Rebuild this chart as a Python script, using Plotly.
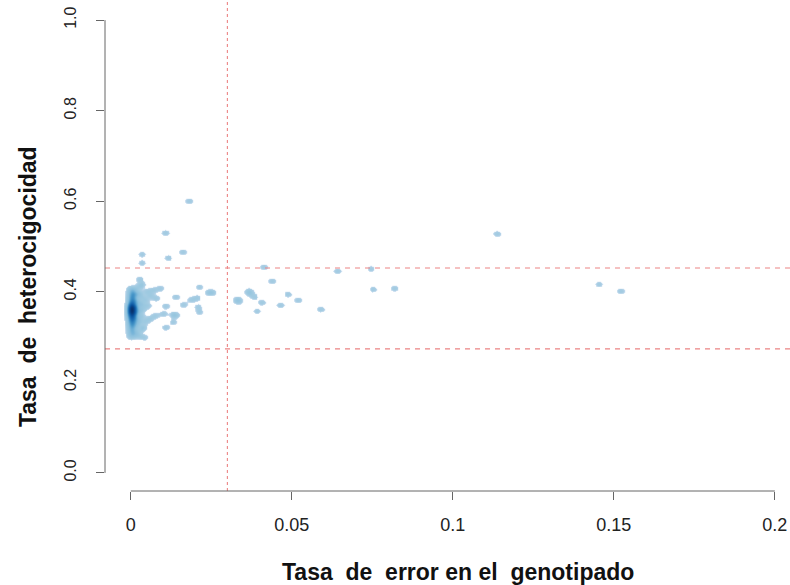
import numpy as np
import plotly.graph_objects as go

# Genotyping error rate (x) and heterozygosity rate (y) per sample
err_rate = [
    # samples with no genotyping errors
    0.0, 0.0, 0.0, 0.0, 0.0, 0.0, 0.0, 0.0, 0.0, 0.0,
    0.0, 0.0, 0.0, 0.0, 0.0, 0.0, 0.0, 0.0, 0.0, 0.0,
    0.0, 0.0, 0.0, 0.0, 0.0, 0.0, 0.0, 0.0, 0.0, 0.0,
    0.0, 0.0, 0.0, 0.0, 0.0, 0.0, 0.0, 0.0,
    0.0004, 0.0004, 0.0004, 0.0004, 0.0004, 0.0004, 0.0004, 0.0004,
    0.0004, 0.0004, 0.0004, 0.0004, 0.0004, 0.0004, 0.0004,
    0.0009, 0.0009, 0.0009, 0.0009, 0.0009, 0.0009, 0.0009, 0.0009,
    0.0009, 0.0009, 0.0009, 0.0009,
    0.0016, 0.0016, 0.0016, 0.0016, 0.0016, 0.0016, 0.0016,
    0.0024, 0.0024, 0.0024, 0.0024, 0.0024, 0.0024,
    0.0033, 0.0033, 0.0033, 0.0033,
    0.0045, 0.0050, 0.0045, 0.0038, 0.0060, 0.0052,
    # low error rates
    0.0026, 0.0034, 0.0090, 0.0212, 0.0242, 0.0252, 0.0069, 0.0140,
    0.0187, 0.0204, 0.0078, 0.0107, 0.0163, 0.0208, 0.0212, 0.0100,
    0.0131, 0.0140, 0.0075, 0.0059, 0.0131, 0.0107, 0.0042, 0.0038,
    0.0180, 0.0106, 0.0161, 0.0034, 0.0115, 0.0034,
    # high error rates
    0.1137, 0.0413, 0.0640, 0.0745, 0.1453, 0.1520, 0.0752, 0.0817,
    0.0438, 0.0365, 0.0368, 0.0331, 0.0333, 0.0382, 0.0488, 0.0407,
    0.0463, 0.0519, 0.0391, 0.0590,
]

het_rate = [
    0.301, 0.307, 0.312, 0.318, 0.322, 0.326, 0.330, 0.333, 0.336, 0.339,
    0.341, 0.344, 0.346, 0.348, 0.350, 0.352, 0.353, 0.355, 0.356, 0.358,
    0.359, 0.361, 0.362, 0.364, 0.365, 0.367, 0.368, 0.370, 0.372, 0.374,
    0.377, 0.380, 0.384, 0.388, 0.392, 0.397, 0.403, 0.408,
    0.315, 0.328, 0.338, 0.345, 0.351, 0.355, 0.358, 0.361,
    0.364, 0.367, 0.371, 0.376, 0.383, 0.391, 0.399,
    0.306, 0.322, 0.334, 0.343, 0.350, 0.357, 0.363, 0.369,
    0.378, 0.387, 0.396, 0.405,
    0.311, 0.329, 0.342, 0.354, 0.366, 0.381, 0.394,
    0.303, 0.336, 0.359, 0.375, 0.398, 0.412,
    0.318, 0.347, 0.372, 0.389,
    0.382, 0.401, 0.335, 0.362, 0.392, 0.370,
    0.428, 0.417, 0.408, 0.411, 0.399, 0.399, 0.404, 0.389,
    0.383, 0.387, 0.386, 0.369, 0.372, 0.367, 0.356, 0.352,
    0.350, 0.349, 0.348, 0.341, 0.334, 0.322, 0.300, 0.323,
    0.600, 0.530, 0.488, 0.483, 0.475, 0.464,
    0.528, 0.455, 0.446, 0.451, 0.417, 0.402, 0.406, 0.408,
    0.424, 0.402, 0.397, 0.384, 0.379, 0.389, 0.395, 0.377,
    0.371, 0.382, 0.358, 0.362,
]

# QC thresholds
het_upper = 0.4525
het_lower = 0.2737
err_cutoff = 0.03

x_ticks = [0, 0.05, 0.1, 0.15, 0.2]
x_tick_text = ["0", "0.05", "0.1", "0.15", "0.2"]
y_ticks = [0.0, 0.2, 0.4, 0.6, 0.8, 1.0]
y_tick_text = ["0.0", "0.2", "0.4", "0.6", "0.8", "1.0"]

# Smoothed density (fourth-root transformed), as in a smoothScatter plot
bw_x, bw_y = 0.0009, 0.0047
gx = np.arange(-0.005, 0.158, 0.0003)
gy = np.arange(0.27, 0.63, 0.0022)
GX, GY = np.meshgrid(gx, gy)
dens = np.zeros_like(GX)
for xi, yi in zip(err_rate, het_rate):
    dens += np.exp(-((GX - xi) ** 2 / (2 * bw_x ** 2) + (GY - yi) ** 2 / (2 * bw_y ** 2)))
zt = dens ** 0.25
z_vals = [[None if v < 0.8 else round(float(v), 3) for v in row] for row in zt]

zmin, zmax = 0.8, 1.9
stops = [(0.8, "#c6dbef"), (0.9, "#aacee4"), (1.05, "#9ecae1"), (1.3, "#8cc0dd"),
         (1.42, "#6baed6"), (1.52, "#4292c6"), (1.63, "#2171b5"), (1.76, "#08519c"),
         (1.9, "#08306b")]
colorscale = [[(v - zmin) / (zmax - zmin), c] for v, c in stops]

fig = go.Figure()
fig.add_trace(go.Heatmap(
    x=gx, y=gy, z=z_vals, zmin=zmin, zmax=zmax, colorscale=colorscale,
    showscale=False, zsmooth="best", hoverinfo="skip",
))

line_col = "rgb(236,132,132)"
fig.add_shape(type="line", xref="paper", yref="y", x0=0, x1=1, y0=het_upper, y1=het_upper,
              line=dict(color=line_col, width=1.2, dash="5px,5px"))
fig.add_shape(type="line", xref="paper", yref="y", x0=0, x1=1, y0=het_lower, y1=het_lower,
              line=dict(color=line_col, width=1.2, dash="5px,5px"))
fig.add_shape(type="line", xref="x", yref="paper", x0=err_cutoff, x1=err_cutoff, y0=0, y1=1,
              line=dict(color=line_col, width=1.1, dash="3px,3px"))

# Axis lines spanning only the tick range
axis_col = "#666666"
fig.add_shape(type="line", xref="x", yref="paper", x0=x_ticks[0], x1=x_ticks[-1], y0=0, y1=0,
              line=dict(color=axis_col, width=1))
fig.add_shape(type="line", xref="paper", yref="y", x0=0, x1=0, y0=y_ticks[0], y1=y_ticks[-1],
              line=dict(color=axis_col, width=1))

font_family = "Liberation Sans, Arial, sans-serif"
fig.update_layout(
    width=790, height=585,
    margin=dict(l=105, r=0, t=2, b=94),
    plot_bgcolor="white", paper_bgcolor="white",
    showlegend=False,
    font=dict(family=font_family, color="#222222"),
    xaxis=dict(range=[-0.008, 0.2047], tickvals=x_ticks, ticktext=x_tick_text,
               ticks="outside", ticklen=8, tickcolor=axis_col, tickwidth=1,
               showgrid=False, zeroline=False, showline=False,
               tickfont=dict(size=18), ticklabelstandoff=9),
    yaxis=dict(range=[-0.04, 1.04], tickvals=y_ticks, ticktext=y_tick_text,
               ticks="outside", ticklen=8, tickcolor=axis_col, tickwidth=1,
               showgrid=False, zeroline=False, showline=False,
               tickangle=-90, tickfont=dict(size=16), ticklabelstandoff=14),
    annotations=[
        dict(text="<b>Tasa\u00a0 de\u00a0 error en el\u00a0 genotipado</b>",
             xref="paper", yref="paper", x=0.515, y=-0.1656,
             xanchor="center", yanchor="middle", showarrow=False,
             font=dict(size=23, color="#111111", family=font_family)),
        dict(text="<b>Tasa\u00a0 de\u00a0 heterocigocidad</b>",
             xref="paper", yref="paper", x=-0.1124, y=0.417, textangle=-90,
             xanchor="center", yanchor="middle", showarrow=False,
             font=dict(size=23, color="#111111", family=font_family)),
    ],
)

fig.write_html("out.html")
